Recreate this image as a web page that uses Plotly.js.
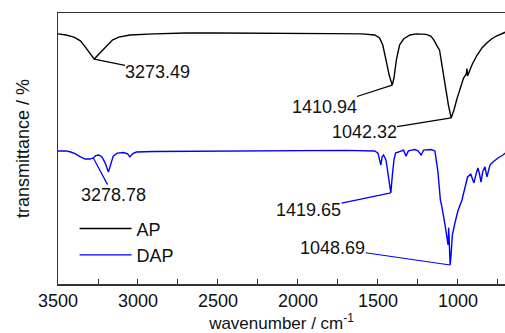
<!DOCTYPE html>
<html><head><meta charset="utf-8">
<script src="https://cdn.plot.ly/plotly-3.0.1.min.js"></script>
<style>html,body{margin:0;padding:0;background:#fff}#chart{width:505px;height:333px}</style>
</head><body><div id="chart"></div>
<script>
// AP spectrum (wavenumber / cm-1, transmittance, arbitrary offset %)
var apWavenumber = [3500,3450,3400,3360,3330,3300,3273.49,3250,3220,3190,3160,3120,3050,2900,2700,2500,2200,2000,1800,1600,1520,1490,1470,1450,1430,1410.94,1400,1385,1365,1340,1300,1260,1200,1170,1150,1130,1115,1100,1080,1060,1042.32,1025,1005,985,965,948,944,940,930,910,880,850,820,790,760,730,700];
var apTransmittance = [92.3,91.9,91.1,89.7,87.5,84.9,83.0,84.5,86.3,88.2,90.0,91.1,91.9,92.3,92.6,92.6,92.6,92.4,92.4,92.3,91.9,90.8,88.2,82.7,77.1,73.4,76.0,82.7,88.2,90.4,91.9,92.3,92.1,91.5,90.0,87.8,86.3,80.8,73.4,66.1,61.3,64.2,68.6,72.3,76.0,77.5,79.5,76.8,78.2,81.2,84.5,87.1,88.9,90.4,91.5,92.3,93.0];
// DAP spectrum
var dapWavenumber = [3500,3450,3420,3390,3360,3330,3300,3278.78,3265,3245,3225,3205,3185,3170,3155,3130,3090,3065,3050,3035,3010,2900,2500,2200,2000,1700,1520,1500,1490,1482,1474,1465,1450,1435,1419.65,1410,1400,1390,1375,1360,1340,1325,1310,1290,1270,1250,1230,1215,1170,1144,1125,1110,1100,1081,1068,1062,1058,1054,1048.69,1043,1040,1035,1019,1000,975,960,950,940,920,900,885,875,865,856,845,831,819,808,800,781,750,719,700];
var dapTransmittance = [49.1,49.1,48.7,48.0,46.9,46.1,46.1,46.5,47.4,47.6,46.9,44.6,41.3,43.9,47.2,48.3,48.5,48.0,46.9,48.0,48.7,48.9,49.1,49.1,49.3,49.3,49.1,48.3,45.8,43.9,46.9,47.6,45.8,39.1,33.6,40.2,45.8,48.3,48.7,49.1,49.4,47.2,49.1,49.4,49.6,49.1,47.6,49.4,49.6,49.1,41.3,31.0,28.4,21.8,16.2,14.4,20.7,13.3,7.0,10.7,16.2,18.1,22.5,27.0,31.0,35.0,37.6,39.5,40.5,37.3,41.0,42.8,40.5,37.6,41.5,43.2,39.5,42.5,43.9,45.0,46.5,47.6,48.5];

var seriesNames = ['AP','DAP'];
var seriesColors = ['#000000','#0000ff'];
var peakLabels = ['3273.49','1410.94','1042.32','3278.78','1419.65','1048.69'];
var peakSeries = [0,0,0,1,1,1];
// text anchor positions of the labels (layout only)
var labelPos = [[2875,78.2],[1834,65.3],[1587,56.1],[3156,32.8],[1934,27.3],[1784,13.3]];

function valueAt(xs, ys, x){
  for (var i=0;i<xs.length-1;i++){
    if ((xs[i]-x)*(xs[i+1]-x) <= 0){
      var t = (x - xs[i])/(xs[i+1]-xs[i]);
      return ys[i] + t*(ys[i+1]-ys[i]);
    }
  }
  return ys[ys.length-1];
}

var FONT = '"Liberation Sans", Arial, sans-serif';
var xs = [apWavenumber, dapWavenumber], ys = [apTransmittance, dapTransmittance];
var traces = [0,1].map(function(k){
  return {x: xs[k], y: ys[k], type:'scatter', mode:'lines', name: seriesNames[k],
    line:{color: seriesColors[k], width:1.4}};
});

var annotations = peakLabels.map(function(lbl, i){
  var s = peakSeries[i], wn = parseFloat(lbl);
  return {x: wn, y: valueAt(xs[s], ys[s], wn), xref:'x', yref:'y',
    ax: labelPos[i][0], ay: labelPos[i][1], axref:'x', ayref:'y',
    text: lbl, showarrow:true, arrowhead:0, arrowwidth:1.2, arrowcolor: seriesColors[s],
    standoff:0, startstandoff:0, borderpad:0,
    font:{family:FONT, size:18, color:'#111'}};
});

var layout = {
  width:505, height:333,
  margin:{l:58, r:0, t:13, b:49},
  paper_bgcolor:'#fff', plot_bgcolor:'#fff',
  showlegend:true,
  legend:{x:0.037, y:0.272, xanchor:'left', yanchor:'top', bgcolor:'rgba(0,0,0,0)',
    font:{family:FONT, size:18, color:'#111'}, itemwidth:52, tracegroupgap:0},
  xaxis:{range:[3500,706], autorange:false, showgrid:false, zeroline:false,
    showline:true, linecolor:'#333', linewidth:1.5, mirror:true,
    ticks:'inside', ticklen:5, tickwidth:1, tickcolor:'#333', dtick:500, tick0:0,
    minor:{dtick:250, ticks:'inside', ticklen:5, tickwidth:1, tickcolor:'#333'},
    tickfont:{family:FONT, size:18, color:'#111'},
    title:{text:'wavenumber / cm<sup>-1</sup>', font:{family:FONT, size:17, color:'#111'}, standoff:4}},
  yaxis:{range:[0,100], autorange:false, showgrid:false, zeroline:false,
    showline:true, linecolor:'#333', linewidth:1.5, showticklabels:false, ticks:'',
    title:{text:'transmittance / %', font:{family:FONT, size:18, color:'#111'}, standoff:22}},
  annotations: annotations
};
Plotly.newPlot('chart', traces, layout, {staticPlot:true, displayModeBar:false});
</script></body></html>
